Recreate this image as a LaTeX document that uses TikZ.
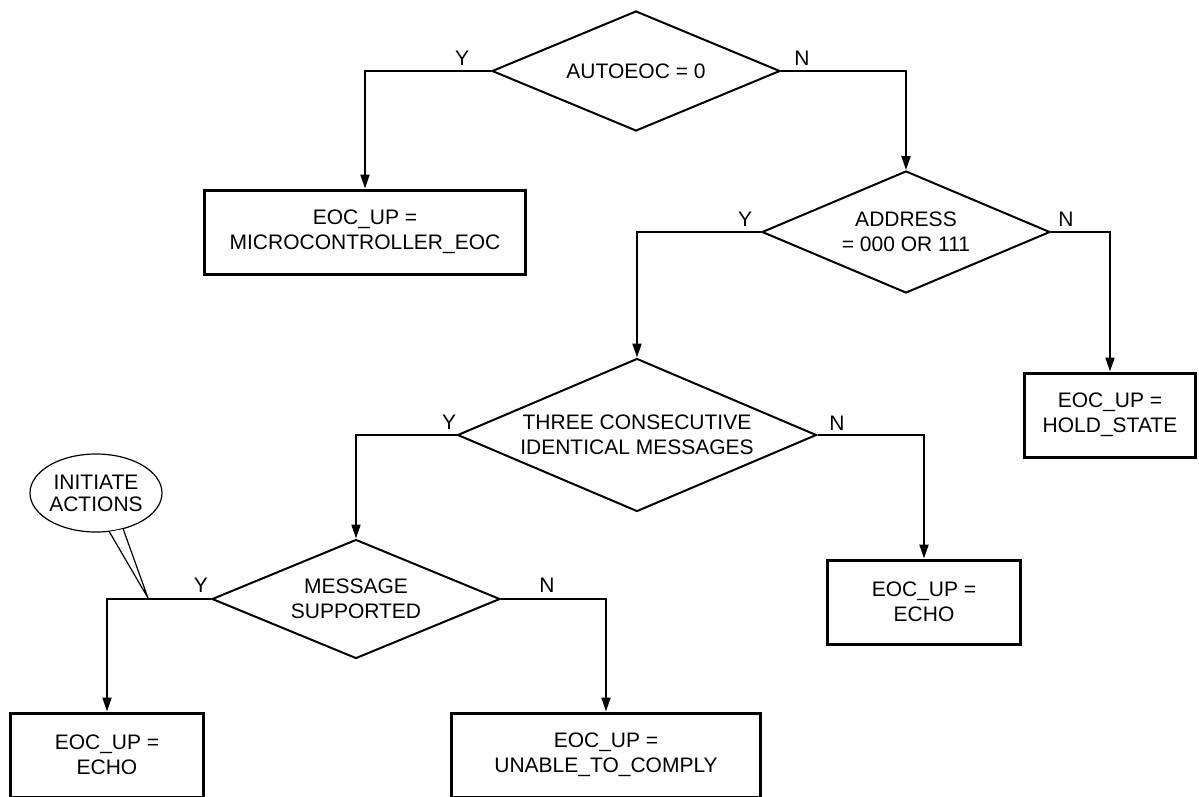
\documentclass[tikz,border=0pt]{standalone}
\usepackage{fontspec}
\setmainfont{Liberation Sans}
\usetikzlibrary{shapes.geometric,arrows.meta}

\begin{document}
\begin{tikzpicture}[x=1pt,y=-1pt,
        font=\fontsize{21}{25}\selectfont,
        decision/.style={diamond,draw,line width=2pt,inner sep=0pt,shape aspect=2.4,align=center},
        outcome/.style={rectangle,draw,line width=3pt,minimum height=84pt,inner sep=0pt,align=center},
        elbow/.style={to path={-| (\tikztotarget)}}]
    \useasboundingbox (0,0) rectangle (1199,796);

    % decisions
    \node (autoeoc) [decision,minimum width=288pt,minimum height=120pt] at (636,71) {AUTOEOC = 0};
    \node (address) [decision,minimum width=288pt,minimum height=122pt] at (906,232) {ADDRESS\\= 000 OR 111};
    \node (three) [decision,minimum width=359pt,minimum height=153pt] at (637,435) {THREE CONSECUTIVE\\IDENTICAL MESSAGES};
    \node (supported) [decision,minimum width=288pt,minimum height=119pt] at (356,599) {MESSAGE\\SUPPORTED};

    % results
    \node (micro) [outcome,minimum width=321pt] at (365,232) {EOC\_UP =\\MICROCONTROLLER\_EOC};
    \node (hold) [outcome,minimum width=171pt] at (1110,415) {EOC\_UP =\\HOLD\_STATE};
    \node (echoright) [outcome,minimum width=193pt] at (924,602) {EOC\_UP =\\ECHO};
    \node (echoleft) [outcome,minimum width=193pt] at (107,755) {EOC\_UP =\\ECHO};
    \node (unable) [outcome,minimum width=309pt] at (606,755) {EOC\_UP =\\UNABLE\_TO\_COMPLY};

    \path [->,>={Triangle[length=14pt,width=9pt]},line width=2pt]
        (autoeoc.west) edge [elbow] (micro.north)
        (autoeoc.east) edge [elbow] (address.north)
        (address.west) edge [elbow] (three.north)
        (address.east) edge [elbow] (hold.north)
        (three.west) edge [elbow] (supported.north)
        (three.east) edge [elbow] (echoright.north)
        (supported.west) edge [elbow] (echoleft.north)
        (supported.east) edge [elbow] (unable.north)
    ;

    % branch labels
    \node (autoeoc-y) at (462,58) {Y};
    \node (autoeoc-n) at (802,58) {N};
    \node (address-y) at (745,219) {Y};
    \node (address-n) at (1066,219) {N};
    \node (three-y) at (449,422) {Y};
    \node (three-n) at (837,423) {N};
    \node (supported-y) at (201,585) {Y};
    \node (supported-n) at (547,585) {N};

    % callout
    \node (initiate) [ellipse,draw,line width=1.2pt,minimum width=118pt,minimum height=78pt,inner sep=0pt,
        align=center,font=\fontsize{21}{22}\selectfont] at (96,493) {INITIATE\\ACTIONS};
    \node (tip) [coordinate] at (148,598) {};
    \draw [line width=1.2pt,fill=white] (initiate.-71) -- (tip) -- (initiate.-53);
\end{tikzpicture}
\end{document}
